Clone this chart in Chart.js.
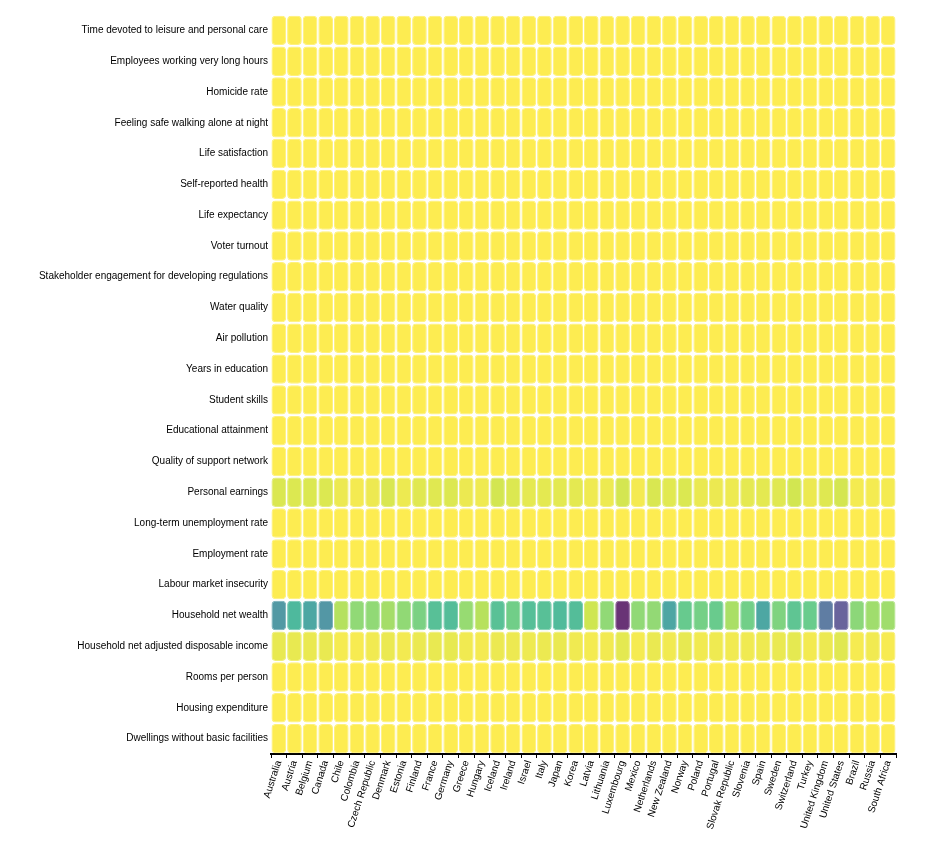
<!DOCTYPE html>
<html>
<head>
    <title>Better Life Index heatmap</title>
    <script src="https://cdn.jsdelivr.net/npm/chart.js@4.4.1/dist/chart.umd.min.js"></script>
    <style>
        body {
            margin: 0;
            background: #fff;
        }
        .chart-container {
            width: 925px;
            height: 846px;
        }
    </style>
</head>
<body>
    <div class="chart-container">
        <canvas id="heatmap"></canvas>
    </div>

    <script>
        const countries = ['Australia', 'Austria', 'Belgium', 'Canada', 'Chile', 'Colombia', 'Czech Republic', 'Denmark',
            'Estonia', 'Finland', 'France', 'Germany', 'Greece', 'Hungary', 'Iceland', 'Ireland', 'Israel', 'Italy',
            'Japan', 'Korea', 'Latvia', 'Lithuania', 'Luxembourg', 'Mexico', 'Netherlands', 'New Zealand', 'Norway',
            'Poland', 'Portugal', 'Slovak Republic', 'Slovenia', 'Spain', 'Sweden', 'Switzerland', 'Turkey',
            'United Kingdom', 'United States', 'Brazil', 'Russia', 'South Africa'];

        // indicators, top row first
        const indicators = ['Time devoted to leisure and personal care', 'Employees working very long hours',
            'Homicide rate', 'Feeling safe walking alone at night', 'Life satisfaction', 'Self-reported health',
            'Life expectancy', 'Voter turnout', 'Stakeholder engagement for developing regulations', 'Water quality',
            'Air pollution', 'Years in education', 'Student skills', 'Educational attainment',
            'Quality of support network', 'Personal earnings', 'Long-term unemployment rate', 'Employment rate',
            'Labour market insecurity', 'Household net wealth', 'Household net adjusted disposable income',
            'Rooms per person', 'Housing expenditure', 'Dwellings without basic facilities'];

        const leisureTime = [14.4, 14.5, 15.7, 14.3, 14.9, 13.0, 15.1, 15.9, 15.2, 15.2, 16.4, 15.6, 14.9, 15.0, 14.6, 15.2, 14.5, 16.5, 14.1, 14.7, 13.8, 15.4, 15.1, 12.9, 15.9, 14.9, 15.6, 14.4, 15.0, 15.1, 14.8, 15.9, 15.2, 15.0, 15.0, 14.8, 14.4, 14.7, 14.9, 14.9];
        const longHours = [13.0, 5.3, 4.3, 3.3, 9.7, 26.6, 5.7, 2.3, 2.2, 3.6, 7.7, 4.3, 4.5, 3.0, 15.1, 5.1, 15.4, 3.3, 17.9, 25.2, 1.3, 0.5, 3.6, 27.0, 0.4, 15.1, 2.9, 5.9, 8.3, 4.2, 4.4, 4.0, 1.1, 0.4, 32.6, 12.2, 11.1, 7.1, 0.1, 18.1];
        const homicideRate = [0.8, 0.5, 1.1, 1.3, 4.2, 24.5, 0.6, 0.6, 3.1, 1.3, 0.5, 0.5, 0.8, 1.0, 0.3, 0.7, 1.7, 0.6, 0.2, 1.0, 4.8, 3.4, 0.6, 26.8, 0.6, 1.3, 0.5, 0.7, 0.9, 1.1, 0.6, 0.6, 0.8, 0.4, 1.4, 0.2, 5.5, 25.5, 13.0, 33.7];
        const feelingSafe = [64, 81, 70, 82, 47, 44, 73, 83, 69, 85, 71, 73, 60, 56, 86, 75, 69, 61, 72, 67, 63, 52, 75, 42, 79, 65, 90, 70, 73, 64, 85, 82, 75, 86, 59, 78, 74, 36, 52, 36];
        const lifeSatisfaction = [7.3, 7.1, 6.9, 7.4, 6.5, 6.3, 6.7, 7.6, 5.7, 7.6, 6.5, 7.0, 5.4, 5.6, 7.5, 7.0, 7.2, 6.0, 5.9, 5.9, 5.9, 5.9, 6.9, 6.5, 7.4, 7.3, 7.6, 6.1, 5.4, 6.2, 5.9, 6.3, 7.3, 7.5, 5.5, 6.8, 6.9, 6.4, 5.8, 4.7];
        const selfReportedHealth = [85, 70, 74, 88, 57, 79, 61, 70, 53, 69, 67, 65, 74, 60, 77, 83, 84, 66, 36, 33, 47, 44, 70, 66, 76, 88, 77, 58, 50, 66, 64, 75, 77, 80, 67, 74, 88, 69, 43, 79];
        const lifeExpectancy = [82.5, 81.7, 81.5, 81.9, 80.2, 76.7, 79.1, 81.0, 78.2, 81.5, 82.4, 81.1, 81.4, 76.2, 82.3, 82.2, 82.6, 83.0, 84.1, 82.7, 74.8, 75.8, 82.3, 75.4, 81.8, 81.7, 82.7, 77.8, 81.5, 77.3, 81.1, 83.4, 82.5, 83.6, 78.0, 81.3, 78.6, 75.0, 71.2, 57.5];
        const voterTurnout = [91, 80, 88, 68, 47, 53, 61, 86, 64, 67, 75, 76, 64, 70, 81, 65, 72, 73, 53, 77, 59, 47, 90, 63, 82, 80, 78, 62, 49, 60, 52, 66, 87, 45, 85, 69, 65, 79, 68, 66];
        const stakeholderEngagement = [2.7, 1.3, 2.0, 2.9, 1.3, 1.4, 1.6, 2.0, 2.7, 2.2, 2.1, 1.8, 1.8, 1.2, 2.0, 1.3, 2.5, 2.5, 1.4, 2.9, 2.2, 2.4, 1.7, 3.2, 2.6, 2.5, 2.2, 2.6, 1.5, 3.0, 2.5, 1.8, 2.0, 2.3, 1.5, 3.1, 3.1, 2.2, 2.0, 1.5];
        const waterQuality = [93, 92, 79, 91, 71, 80, 87, 95, 83, 95, 81, 91, 69, 77, 99, 82, 67, 71, 87, 82, 79, 77, 84, 67, 92, 89, 98, 82, 86, 85, 89, 72, 96, 96, 62, 84, 85, 73, 54, 67];
        const airPollution = [5, 16, 15, 7, 23, 15, 20, 10, 7, 6, 12, 14, 18, 19, 3, 8, 21, 18, 14, 28, 13, 12, 12, 21, 14, 5, 7, 23, 9, 21, 18, 10, 6, 15, 27, 11, 10, 12, 15, 26];
        const yearsInEducation = [20.2, 17.0, 19.3, 17.3, 17.5, 14.1, 17.9, 19.6, 17.7, 19.9, 16.6, 18.1, 19.7, 16.4, 19.6, 18.1, 15.7, 16.9, 16.4, 17.3, 18.1, 18.4, 15.1, 15.2, 18.7, 17.7, 18.0, 17.7, 17.2, 16.3, 18.3, 17.9, 19.3, 17.4, 18.3, 17.3, 17.2, 16.2, 16.0, 18.0];
        const studentSkills = [502, 492, 503, 523, 443, 413, 491, 504, 524, 523, 496, 508, 458, 474, 481, 509, 472, 485, 529, 519, 487, 475, 481, 416, 508, 509, 504, 504, 497, 463, 509, 491, 496, 506, 425, 500, 488, 395, 481, 380];
        const educationalAttainment = [81, 85, 77, 91, 65, 54, 93, 81, 89, 88, 78, 87, 73, 84, 77, 82, 87, 61, 94, 88, 88, 94, 77, 38, 78, 79, 82, 92, 48, 91, 88, 59, 83, 88, 39, 81, 90, 49, 94, 43];
        const supportNetwork = [95, 92, 91, 93, 85, 89, 91, 95, 92, 95, 90, 90, 80, 86, 98, 95, 88, 92, 89, 78, 86, 88, 93, 80, 91, 96, 94, 86, 88, 91, 92, 93, 91, 93, 86, 93, 91, 90, 90, 88];
        const personalEarnings = [53000, 51000, 52000, 50000, 26000, 15000, 25000, 55000, 24000, 44000, 44000, 50000, 26000, 22000, 64000, 50000, 37000, 39000, 40000, 38000, 22000, 24000, 63000, 15000, 55000, 43000, 52000, 29000, 26000, 24000, 36000, 39000, 44000, 65000, 27000, 46000, 63000, 14000, 14000, 14000];
        const longTermUnemployment = [1.3, 1.9, 4.0, 0.8, 1.8, 1.0, 1.7, 1.7, 1.9, 2.3, 4.1, 1.6, 17.2, 2.4, 0.4, 4.2, 0.5, 6.7, 1.0, 0.0, 4.4, 3.0, 2.2, 0.1, 2.5, 0.6, 0.7, 1.5, 5.8, 5.6, 4.3, 9.5, 1.2, 1.8, 2.2, 1.1, 0.9, 3.0, 1.6, 15.4];
        const employmentRate = [73, 72, 63, 73, 63, 67, 74, 74, 74, 70, 65, 75, 52, 67, 86, 65, 69, 58, 75, 66, 68, 69, 66, 61, 76, 76, 75, 66, 68, 65, 66, 60, 76, 80, 52, 74, 69, 61, 70, 43];
        const labourInsecurity = [5.4, 3.9, 4.3, 3.9, 8.1, 10.0, 3.1, 4.1, 3.8, 4.1, 7.4, 2.3, 28.7, 5.4, 1.2, 4.4, 4.3, 10.3, 1.4, 3.0, 9.0, 6.7, 5.0, 5.4, 4.8, 4.4, 2.2, 5.7, 8.5, 8.4, 5.4, 19.8, 3.7, 2.9, 12.0, 4.3, 4.9, 10.0, 5.0, 26.0];
        const netWealth = [438000, 308000, 386000, 446000, 108000, 161000, 161000, 131000, 159000, 200000, 280000, 292000, 150000, 104000, 277000, 217000, 285000, 280000, 300000, 292000, 70000, 161000, 769000, 161000, 157000, 388000, 238000, 211000, 233000, 123000, 215000, 385000, 192000, 261000, 231000, 548000, 632000, 169000, 138000, 138000];
        const disposableIncome = [32800, 31900, 28300, 30900, 13800, 10000, 19200, 27300, 15200, 27900, 29800, 33700, 17700, 15000, 27000, 24100, 23000, 26600, 28600, 20600, 14000, 17000, 39000, 13100, 28800, 19000, 33500, 18000, 21200, 17500, 19900, 23000, 29200, 36400, 16000, 27000, 44000, 11000, 19500, 10000];
        const roomsPerPerson = [2.3, 1.6, 2.2, 2.6, 1.2, 1.0, 1.4, 1.9, 1.6, 1.9, 1.8, 1.8, 1.2, 1.2, 1.6, 2.1, 1.2, 1.4, 1.9, 1.5, 1.2, 1.5, 1.9, 1.0, 1.9, 2.4, 2.1, 1.1, 1.7, 1.1, 1.5, 1.9, 1.7, 2.2, 1.0, 1.9, 2.4, 1.0, 0.9, 0.9];
        const housingExpenditure = [19, 21, 20, 22, 18, 27, 23, 23, 17, 23, 21, 20, 23, 19, 21, 20, 21, 23, 22, 15, 23, 19, 20, 19, 19, 26, 17, 22, 19, 23, 19, 20, 20, 18, 20, 26, 18, 20, 18, 18];
        const dwellingsWithoutFacilities = [0.0, 0.8, 0.7, 0.2, 9.4, 12.3, 0.5, 0.5, 6.7, 0.5, 0.5, 0.1, 0.4, 3.6, 0.0, 0.2, 0.0, 0.7, 6.4, 2.5, 11.7, 11.4, 0.5, 25.9, 0.1, 0.0, 0.0, 2.9, 0.8, 1.2, 0.4, 0.3, 0.0, 0.0, 6.9, 0.5, 0.1, 6.7, 13.8, 36.9];

        const rows = [leisureTime, longHours, homicideRate, feelingSafe, lifeSatisfaction, selfReportedHealth,
            lifeExpectancy, voterTurnout, stakeholderEngagement, waterQuality, airPollution, yearsInEducation,
            studentSkills, educationalAttainment, supportNetwork, personalEarnings, longTermUnemployment,
            employmentRate, labourInsecurity, netWealth, disposableIncome, roomsPerPerson, housingExpenditure,
            dwellingsWithoutFacilities];

        // viridis, reversed below so low values are yellow
        const viridis = ['#440154', '#482475', '#414487', '#355f8d', '#2a788e', '#21918c',
            '#22a884', '#44bf70', '#7ad151', '#bddf26', '#fde725'];

        const allValues = rows.flat();
        const lo = Math.min.apply(null, allValues);
        const hi = Math.max.apply(null, allValues);

        function hexToRgb(h) {
            return [parseInt(h.slice(1, 3), 16), parseInt(h.slice(3, 5), 16), parseInt(h.slice(5, 7), 16)];
        }

        function cellColor(v, alpha) {
            const s = 1 - (v - lo) / (hi - lo);
            const pos = s * (viridis.length - 1);
            const i = Math.min(Math.floor(pos), viridis.length - 2);
            const f = pos - i;
            const a = hexToRgb(viridis[i]);
            const b = hexToRgb(viridis[i + 1]);
            const c = a.map(function(x, k) { return Math.round(x + (b[k] - x) * f); });
            return 'rgba(' + c[0] + ',' + c[1] + ',' + c[2] + ',' + alpha + ')';
        }

        const inset = 0.022;
        const datasets = rows.map(function(values, r) {
            return {
                label: indicators[r],
                data: values.map(function() { return [r + inset, r + 1 - inset]; }),
                backgroundColor: values.map(function(v) { return cellColor(v, 0.8); }),
                borderColor: values.map(function(v) { return cellColor(v, 0.6); }),
                borderWidth: 1,
                borderRadius: 4,
                borderSkipped: false,
                grouped: false,
                barPercentage: 0.94,
                categoryPercentage: 1.0
            };
        });

        const font = { family: '"Liberation Sans", Arial, sans-serif', size: 10 };

        new Chart(document.getElementById('heatmap'), {
            type: 'bar',
            data: { labels: countries, datasets: datasets },
            options: {
                responsive: true,
                maintainAspectRatio: false,
                animation: false,
                layout: { padding: { top: 15, right: 29, bottom: 0, left: 0 } },
                plugins: {
                    legend: { display: false },
                    tooltip: { enabled: false }
                },
                scales: {
                    x: {
                        type: 'category',
                        offset: true,
                        grid: {
                            display: true,
                            drawOnChartArea: false,
                            drawTicks: true,
                            tickLength: 4,
                            color: '#000',
                            offset: true
                        },
                        border: { display: true, color: '#000', width: 2 },
                        ticks: {
                            autoSkip: false,
                            maxRotation: 72,
                            minRotation: 72,
                            padding: 1,
                            color: '#000',
                            font: font
                        },
                        afterFit: function(scale) { scale.height = 92; }
                    },
                    y: {
                        type: 'linear',
                        min: 0,
                        max: indicators.length,
                        reverse: true,
                        grid: { display: false, drawTicks: false },
                        border: { display: false },
                        ticks: {
                            autoSkip: false,
                            padding: 3,
                            color: '#000',
                            font: font,
                            callback: function(value) { return indicators[Math.floor(value)]; }
                        },
                        afterBuildTicks: function(scale) {
                            scale.ticks = indicators.map(function(_, i) { return { value: i + 0.5 }; });
                        },
                        afterFit: function(scale) { scale.width = 271; }
                    }
                }
            }
        });
    </script>
</body>
</html>
